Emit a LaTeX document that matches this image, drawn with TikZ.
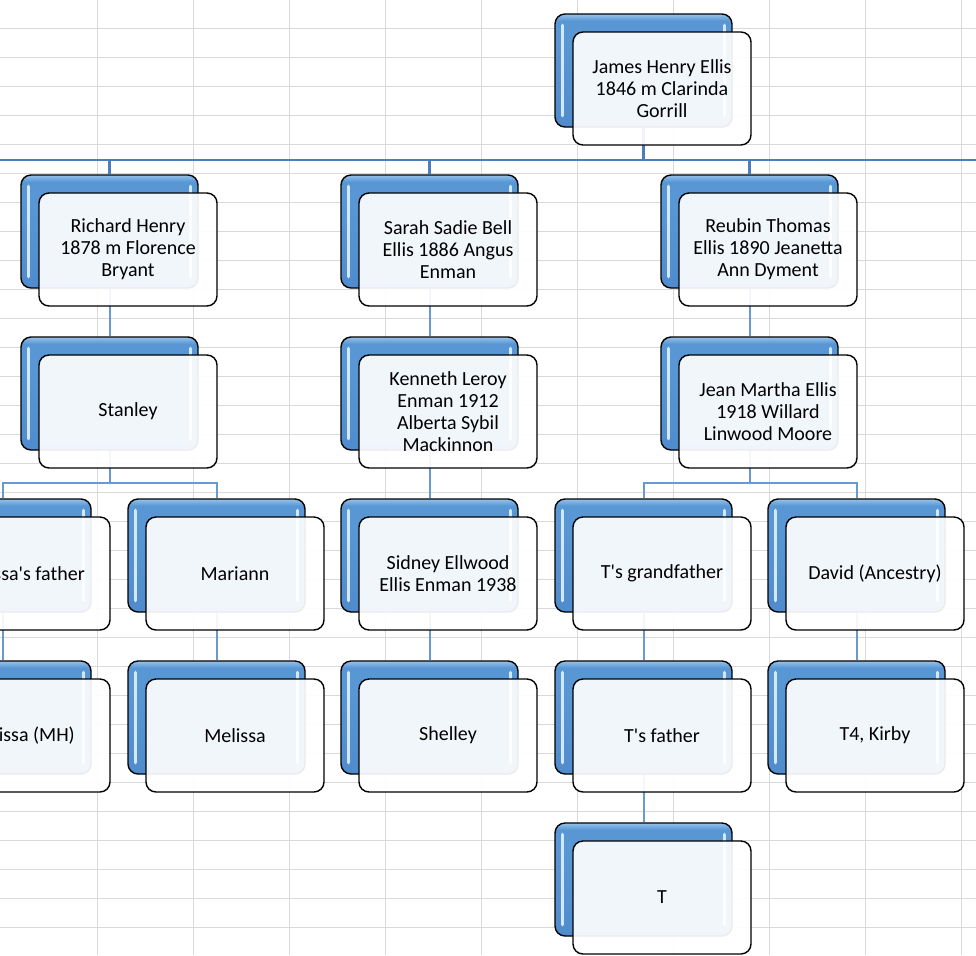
\documentclass[tikz,border=0pt]{standalone}
\usepackage{fontspec}
\setmainfont{Carlito}
\usetikzlibrary{backgrounds}
\definecolor{gridgray}{RGB}{217,217,217}
\definecolor{busblue}{RGB}{74,126,187}
\definecolor{linkblue}{RGB}{104,153,210}
\definecolor{boxblue}{RGB}{88,150,212}
\definecolor{boxtop}{RGB}{150,195,235}
\definecolor{boxbot}{RGB}{80,140,205}
\definecolor{glossblue}{RGB}{210,232,252}
\pgfdeclareverticalshading{boxshade}{100bp}{color(0bp)=(boxbot); color(25bp)=(boxbot); color(62bp)=(boxblue); color(72bp)=(boxblue); color(75bp)=(boxtop); color(100bp)=(boxtop)}
\newcommand{\famnode}[4]{%
  \node[backbox] (#1) at (#2+88.5,#3+56.5) {};
  \draw[gloss] ([shift={(8,12)}]#1.north west) -- ([shift={(8,-12)}]#1.south west);
  \draw[gloss] ([shift={(-8,12)}]#1.north east) -- ([shift={(-8,-12)}]#1.south east);
  \node[frontbox] (#1-f) at (#2+107,#3+74.5) {#4};
}

\begin{document}
\begin{tikzpicture}[x=0.5pt,y=-0.5pt,
  backbox/.style={rectangle,rounded corners=5pt,draw=black,line width=0.7pt,shade,shading=boxshade,minimum width=88.5pt,minimum height=56.5pt,inner sep=0pt},
  frontbox/.style={rectangle,rounded corners=5pt,draw=black,line width=0.7pt,fill=white,fill opacity=0.92,text opacity=1,minimum width=89pt,minimum height=56.5pt,inner sep=0pt,align=center,font=\fontsize{10}{11}\selectfont},
  gloss/.style={draw=glossblue,line width=1.6pt,line cap=round},
  link/.style={draw=linkblue,line width=1pt},
  buslink/.style={draw=busblue,line width=1.2pt},
  gridline/.style={draw=gridgray,line width=0.5pt}]

\useasboundingbox (0,0) rectangle (976,955);
\clip (0,0) rectangle (976,955);

\famnode{james}{555}{14}{James Henry Ellis\\1846 m Clarinda\\Gorrill}
\famnode{richard}{21}{175}{Richard Henry\\1878 m Florence\\Bryant}
\famnode{sarah}{341}{175}{Sarah Sadie Bell\\Ellis 1886 Angus\\Enman}
\famnode{reubin}{661}{175}{Reubin Thomas\\Ellis 1890 Jeanetta\\Ann Dyment}
\famnode{stanley}{21}{337}{Stanley}
\famnode{kenneth}{341}{337}{Kenneth Leroy\\Enman 1912\\Alberta Sybil\\Mackinnon}
\famnode{jean}{661}{337}{Jean Martha Ellis\\1918 Willard\\Linwood Moore}
\famnode{mfather}{-86}{499}{Melissa\textquotesingle s father}
\famnode{mariann}{128}{499}{Mariann}
\famnode{sidney}{341}{499}{Sidney Ellwood\\Ellis Enman 1938}
\famnode{tgrand}{555}{499}{T\textquotesingle s grandfather}
\famnode{david}{768}{499}{David (Ancestry)}
\famnode{mmh}{-86}{661}{Melissa (MH)}
\famnode{melissa}{128}{661}{Melissa}
\famnode{shelley}{341}{661}{Shelley}
\famnode{tfather}{555}{661}{T\textquotesingle s father}
\famnode{kirby}{768}{661}{T4, Kirby}
\famnode{t}{555}{823}{T}

\begin{pgfonlayer}{background}
\fill[white] (0,0) rectangle (976,955);
\foreach \gx in {97,193,...,961} \draw[gridline] (\gx,0) -- (\gx,955);
\foreach \gy in {1,...,32} \draw[gridline] (0,29*\gy-0.5) -- (976,29*\gy-0.5);

\coordinate (busL) at (0,160);
\coordinate (busR) at (976,160);
\draw[buslink] (busL) -- (busR);
\draw[buslink] (james.south) -- (james.south |- busL);
\draw[buslink] (richard.north) -- (richard.north |- busL);
\draw[buslink] (sarah.north) -- (sarah.north |- busL);
\draw[buslink] (reubin.north) -- (reubin.north |- busL);

\draw[link] (richard.south) -- (stanley.north);
\draw[link] (sarah.south) -- (kenneth.north);
\draw[link] (reubin.south) -- (jean.north);
\draw[link] (stanley.south) |- ([yshift=7.5pt]mfather.north) -- (mfather.north);
\draw[link] (stanley.south) |- ([yshift=7.5pt]mariann.north) -- (mariann.north);
\draw[link] (kenneth.south) -- (sidney.north);
\draw[link] (jean.south) |- ([yshift=7.5pt]tgrand.north) -- (tgrand.north);
\draw[link] (jean.south) |- ([yshift=7.5pt]david.north) -- (david.north);
\draw[link] (mfather.south) -- (mmh.north);
\draw[link] (mariann.south) -- (melissa.north);
\draw[link] (sidney.south) -- (shelley.north);
\draw[link] (tgrand.south) -- (tfather.north);
\draw[link] (david.south) -- (kirby.north);
\draw[link] (tfather.south) -- (t.north);
\end{pgfonlayer}

\end{tikzpicture}
\end{document}
